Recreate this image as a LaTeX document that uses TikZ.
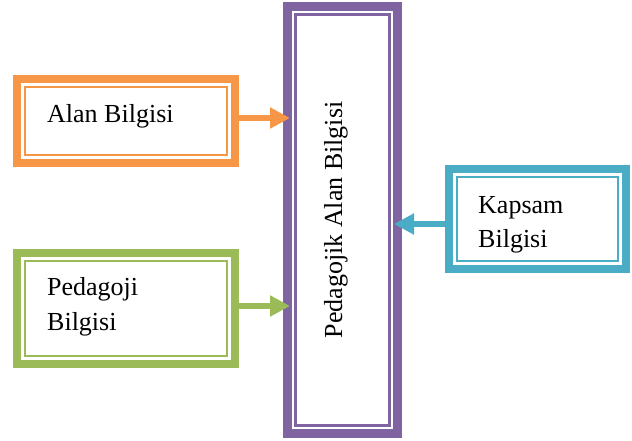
\documentclass[tikz,border=0pt]{standalone}
\usepackage{fontspec}
\setmainfont{Liberation Serif}
\usetikzlibrary{arrows.meta}
\definecolor{korange}{HTML}{F79646}
\definecolor{kgreen}{HTML}{9BBB59}
\definecolor{kteal}{HTML}{4BACC6}
\definecolor{kpurple}{HTML}{8064A2}
\begin{document}
\begin{tikzpicture}[x=1pt,y=-1pt,
  frame/.style={draw=#1, line width=8.5pt, outer sep=0pt, inner sep=0pt},
  innerline/.style={draw=#1, line width=2.5pt},
  link/.style={draw=#1, line width=6pt, -{Triangle[width=20pt,length=20pt]}},
  boxtext/.style={font=\fontsize{26}{35}\selectfont, inner sep=0pt, align=left}
]
\useasboundingbox (0,0) rectangle (632,441);

% knowledge boxes with a thick outer frame and a thin inner frame
\node[frame=korange, minimum width=218pt, minimum height=84pt] (A) at (126,121) {};
\draw[innerline=korange] ([shift={(8,8)}]A.north west) rectangle ([shift={(-8,-8)}]A.south east);

\node[frame=kgreen, minimum width=218pt, minimum height=111pt] (B) at (126,308.5) {};
\draw[innerline=kgreen] ([shift={(8,8)}]B.north west) rectangle ([shift={(-8,-8)}]B.south east);

\node[frame=kteal, minimum width=177pt, minimum height=100pt] (K) at (537.5,219) {};
\draw[innerline=kteal] ([shift={(8,8)}]K.north west) rectangle ([shift={(-8,-8)}]K.south east);

\node[frame=kpurple, minimum width=110pt, minimum height=427pt] (P) at (342.5,220) {};
\draw[innerline=kpurple] ([shift={(8,8)}]P.north west) rectangle ([shift={(-8,-8)}]P.south east);

% labels
\node[boxtext, anchor=base west] (tA) at (47,123) {Alan Bilgisi};
\node[boxtext, anchor=base west] (tB1) at (47,295.5) {Pedagoji};
\node[boxtext, anchor=base west] (tB2) at (47,330.5) {Bilgisi};
\node[boxtext, anchor=base west] (tK1) at (478,213) {Kapsam};
\node[boxtext, anchor=base west] (tK2) at (478,247) {Bilgisi};
\node[boxtext, anchor=base, rotate=90] (tP) at (342,220) {Pedagojik Alan Bilgisi};

% connectors into the central box
\draw[link=korange] ([yshift=3pt,xshift=-4pt]A.east) -- ([yshift=3pt,xshift=2.5pt]A.east -| P.west);
\draw[link=kgreen] ([yshift=2.5pt,xshift=-4pt]B.east) -- ([yshift=2.5pt,xshift=2.5pt]B.east -| P.west);
\draw[link=kteal] ([yshift=-5pt,xshift=4pt]K.west) -- ([yshift=-5pt,xshift=-3.5pt]K.west -| P.east);
\end{tikzpicture}
\end{document}
